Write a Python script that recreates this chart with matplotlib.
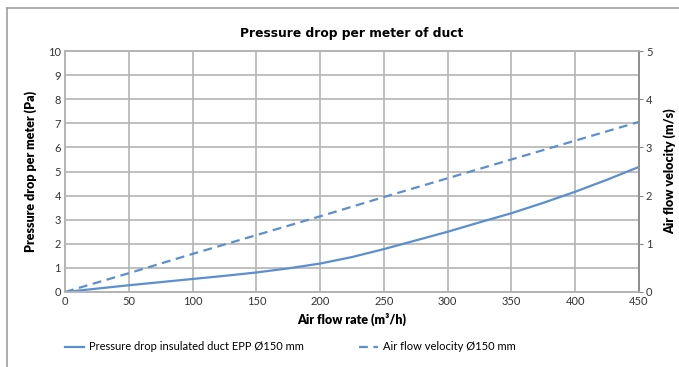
import matplotlib
matplotlib.use("Agg")
import matplotlib.pyplot as plt
from matplotlib.lines import Line2D

# data
flow = [0, 25, 50, 75, 100, 125, 150, 175, 200, 225, 250, 275, 300, 325, 350, 375, 400, 425, 450]
pressure = [0, 0.14, 0.28, 0.41, 0.54, 0.67, 0.81, 0.98, 1.18, 1.45, 1.78, 2.14, 2.5, 2.89, 3.27, 3.7, 4.16, 4.66, 5.19]
flow_v = [0, 50, 100, 150, 200, 250, 300, 350, 400, 450]
velocity = [0, 0.39, 0.79, 1.18, 1.57, 1.97, 2.36, 2.75, 3.14, 3.53]

blue = '#5b8fd0'
grid_c = '#b4b4b4'

plt.rcParams['font.family'] = ['Lato', 'DejaVu Sans']

fig = plt.figure(figsize=(6.79, 3.67), dpi=100)
ax = fig.add_axes([65/679, 1-292/367, (639-65)/679, (292-51)/367])
ax2 = ax.twinx()

ax.plot(flow, pressure, color=blue, lw=1.6, solid_capstyle='round')
ax2.plot(flow_v, velocity, color=blue, lw=1.6, ls=(0, (4, 2.5)))

ax.set_xlim(0, 450)
ax.set_ylim(0, 10)
ax2.set_ylim(0, 5)
ax.set_xticks(range(0, 451, 50))
ax.set_yticks(range(0, 11))
ax2.set_yticks(range(0, 6))

ax.grid(True, color=grid_c, lw=1.2)
ax.set_axisbelow(True)
for a in (ax, ax2):
    for s in a.spines.values():
        s.set_color(grid_c)
        s.set_linewidth(1.2)
    a.tick_params(labelsize=8, colors='#333333', length=0, pad=3)
ax2.tick_params(axis='y', length=3, color='#888888', pad=2)
ax2.spines['right'].set_color('#888888')

bold = dict(fontsize=9, fontweight='heavy')
ax.set_xlabel('Air flow rate (m³/h)', labelpad=4, **bold)
ax.set_ylabel('Pressure drop per meter (Pa)', labelpad=8, **bold)
ax2.set_ylabel('Air flow velocity (m/s)', labelpad=8, **bold)
ax.set_title('Pressure drop per meter of duct', fontsize=8.8, fontweight='bold',
             family='DejaVu Sans', pad=10)

handles = [Line2D([], [], color=blue, lw=1.6),
           Line2D([], [], color=blue, lw=1.6, ls=(0, (4, 2.5)))]
labels = ['Pressure drop insulated duct EPP Ø150 mm', 'Air flow velocity Ø150 mm']
fig.legend(handles, labels, loc='center left', bbox_to_anchor=(55/679, 1-347/367),
           ncol=2, frameon=False, fontsize=8, columnspacing=4.9,
           handlelength=1.7, handletextpad=0.5)

# frame lines around the chart area
fig.add_artist(Line2D([7/679, 1], [1-8/367, 1-8/367], color='#a0a0a0', lw=1.2))
fig.add_artist(Line2D([7/679, 7/679], [0, 1-8/367], color='#a0a0a0', lw=1.2))

fig.savefig('out.png', dpi=100)
